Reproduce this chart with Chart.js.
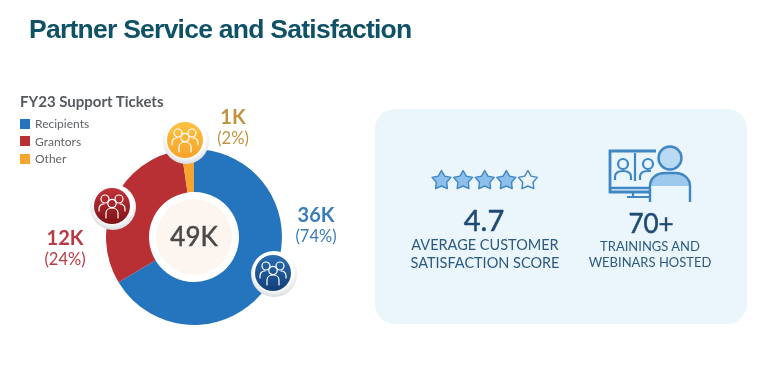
<!DOCTYPE html>
<html>
<head>
<meta charset="utf-8">
<title>Partner Service and Satisfaction</title>
<script src="https://cdn.jsdelivr.net/npm/chart.js@4"></script>
<style>
  html, body { margin: 0; padding: 0; background: #fff; }
  #page { position: relative; width: 768px; height: 367px; overflow: hidden; font-family: Lato, sans-serif; }
  #page > * { position: absolute; }
  #panel { left: 375px; top: 109px; width: 372px; height: 215px; border-radius: 20px; background: #eaf5fc; }
  #art { left: 0; top: 0; width: 768px; height: 367px; }
  #donut { left: 106px; top: 149px; }
  h1 { margin: 0; left: 29px; top: 14px; font: bold 26.5px "Liberation Sans", sans-serif; letter-spacing: -0.75px; color: #0f5166; white-space: nowrap; }
  #legendTitle { left: 20px; top: 92px; font-weight: 700; font-size: 15px; color: #555a5e; white-space: nowrap; }
  #legend { left: 20px; top: 115px; font-size: 12px; color: #606468; }
  #legend div { display: flex; align-items: center; height: 17.5px; }
  #legend i { width: 10px; height: 10px; margin-right: 5px; }
  .big { transform: translateX(-50%); text-align: center; white-space: nowrap; line-height: 22px; font-size: 16.5px; }
  .big b { display: block; font-weight: 700; font-size: 20px; }
  #total { left: 194px; top: 220px; transform: translateX(-50%); font-size: 26px; font-weight: 400; -webkit-text-stroke: 0.5px #4a4a4a; color: #4a4a4a; }
  .score { transform: translateX(-50%); color: #1f4a73; font-weight: 400; -webkit-text-stroke: 0.5px #1f4a73; white-space: nowrap; }
  .caption { transform: translateX(-50%); text-align: center; color: #2c5a80; white-space: nowrap; }
</style>
</head>
<body>
<div id="page">
  <div id="panel"></div>
  <canvas id="donut" width="176" height="176"></canvas>
  <svg id="art" viewBox="0 0 768 367">
    <defs>
      <radialGradient id="rim" cx="50%" cy="42%" r="60%"><stop offset="70%" stop-color="#fff"/><stop offset="100%" stop-color="#d3d6db"/></radialGradient>
      <linearGradient id="blueFill" x1="0" y1="0" x2="0" y2="1"><stop offset="0" stop-color="#2a6db0"/><stop offset="1" stop-color="#123f78"/></linearGradient>
      <linearGradient id="redFill" x1="0" y1="0" x2="0" y2="1"><stop offset="0" stop-color="#c3333a"/><stop offset="1" stop-color="#7c1318"/></linearGradient>
      <linearGradient id="goldFill" x1="0" y1="0" x2="0" y2="1"><stop offset="0" stop-color="#fdc23f"/><stop offset="1" stop-color="#f7a22c"/></linearGradient>
      <g id="people" fill="none" stroke="#fff" stroke-width="1.2" stroke-linecap="round">
        <circle cx="-7" cy="-7" r="4"/><circle cx="7" cy="-7" r="4"/><circle cx="0" cy="-2.5" r="4.2"/>
        <path d="M-13 5v-2c0-3 2-5 5-5M13 5v-2c0-3-2-5-5-5"/>
        <path d="M-6 12V7c0-3 2.500-5 6-5s6 2 6 5v5"/>
      </g>
    </defs>
    <!-- ticket badges on the ring -->
    <circle cx="274" cy="274" r="23" fill="url(#rim)"/><circle cx="273" cy="273" r="18" fill="url(#blueFill)"/><use href="#people" x="273" y="273"/>
    <circle cx="113" cy="207" r="23" fill="url(#rim)"/><circle cx="112" cy="206" r="18" fill="url(#redFill)"/><use href="#people" x="112" y="206"/>
    <circle cx="186" cy="141" r="23" fill="url(#rim)"/><circle cx="185" cy="140" r="18" fill="url(#goldFill)"/><use href="#people" x="185" y="140"/>
    <!-- centre disc -->
    <circle cx="194" cy="237" r="38" fill="#fdf6f0"/>
    <!-- stars -->
    <g id="stars"></g>
    <!-- webinar icon -->
    <g fill="none" stroke="#3f86c4" stroke-width="2.200">
      <path d="M656 151H610v41h40" stroke-width="2.800"/>
      <path d="M610 188h40" stroke-width="2.400"/>
      <path d="M635 153v28"/>
      <path d="M627 197h24M633 193v4"/>
      <circle cx="623" cy="164" r="5"/><path d="M615 180v-3c0-4 3-6 8-6s8 2 8 6v3"/>
      <circle cx="648" cy="164" r="5"/><path d="M640 180v-3c0-4 3-6 8-6h3"/>
    </g>
    <path d="M650 186c0-8 7-13 15-13h10c9 0 15 5 15 13z" fill="#9cc9ec"/>
    <path d="M650 202v-16c0-8 7-13 15-13h10c9 0 15 6 15 13v16" fill="none" stroke="#3f86c4" stroke-width="2.400"/>
    <circle cx="670" cy="158" r="11.500" fill="#b8daf3" stroke="#3f86c4" stroke-width="2.400"/>
  </svg>

  <h1 id="title"></h1>
  <div id="legendTitle"></div>
  <div id="legend"></div>
  <div id="total"></div>
  <div id="callouts"></div>
  <div class="score" style="left:484px;top:202px;font-size:29px" id="score"></div>
  <div class="caption" style="left:485px;top:236px;font-size:14.500px;line-height:18px" id="scoreCaption"></div>
  <div class="score" style="left:651px;top:207px;font-size:26px" id="hosted"></div>
  <div class="caption" style="left:650px;top:238px;font-size:13px;line-height:16px" id="hostedCaption"></div>
</div>

<script>
// Text and values
const chartTitle = "Partner Service and Satisfaction";
const legendHeading = "FY23 Support Tickets";
const categories = ["Recipients", "Grantors", "Other"];
const amountLabels = ["36K", "12K", "1K"];
const shareLabels = ["(74%)", "(24%)", "(2%)"];
const totalLabel = "49K";
// slice sizes as drawn in the picture (the arcs don't follow the printed percentages)
const sliceSizes = [66.4, 31.3, 2.3];
const sliceColors = ["#2475bd", "#b83033", "#f6a62f"];
const labelColors = ["#3a7db8", "#b83a42", "#c0943f"];
const labelPlaces = [[316, 203], [65, 226], [233, 105]];
const ratingValue = "4.7";
const ratingCaption = ["AVERAGE CUSTOMER", "SATISFACTION SCORE"];
const hostedValue = "70+";
const hostedCaption = ["TRAININGS AND", "WEBINARS HOSTED"];
const starFills = ["#8cc0ea", "#8cc0ea", "#8cc0ea", "#8cc0ea", "#eaf5fc"];

document.getElementById("title").textContent = chartTitle;
document.getElementById("legendTitle").textContent = legendHeading;
document.getElementById("total").textContent = totalLabel;
document.getElementById("score").textContent = ratingValue;
document.getElementById("hosted").textContent = hostedValue;
document.getElementById("scoreCaption").innerHTML = ratingCaption.join("<br>");
document.getElementById("hostedCaption").innerHTML = hostedCaption.join("<br>");

document.getElementById("legend").innerHTML = categories.map((name, i) =>
  `<div><i style="background:${sliceColors[i]}"></i>${name}</div>`).join("");

document.getElementById("callouts").innerHTML = categories.map((name, i) =>
  `<div class="big" style="position:absolute;left:${labelPlaces[i][0]}px;top:${labelPlaces[i][1]}px;color:${labelColors[i]}">
     <b>${amountLabels[i]}</b>${shareLabels[i]}</div>`).join("");

// Five-pointed stars for the rating
function starPath(cx, cy, outer, inner) {
  let d = "";
  for (let k = 0; k < 10; k++) {
    const r = k % 2 ? inner : outer;
    const a = -Math.PI / 2 + k * Math.PI / 5;
    d += (k ? "L" : "M") + (cx + r * Math.cos(a)).toFixed(1) + " " + (cy + r * Math.sin(a)).toFixed(1);
  }
  return d + "Z";
}
document.getElementById("stars").innerHTML = starFills.map((fill, i) =>
  `<path d="${starPath(441.5 + i * 21.6, 180.5, 10, 5.5)}" fill="${fill}" stroke="#3f86c4" stroke-width="1.400" stroke-linejoin="round"/>`).join("");

new Chart(document.getElementById("donut").getContext("2d"), {
  type: "doughnut",
  data: {
    labels: categories,
    datasets: [{ data: sliceSizes, backgroundColor: sliceColors, borderWidth: 0 }]
  },
  options: {
    responsive: false,
    animation: false,
    cutout: 45,
    plugins: { legend: { display: false }, tooltip: { enabled: false } }
  }
});
</script>
</body>
</html>
